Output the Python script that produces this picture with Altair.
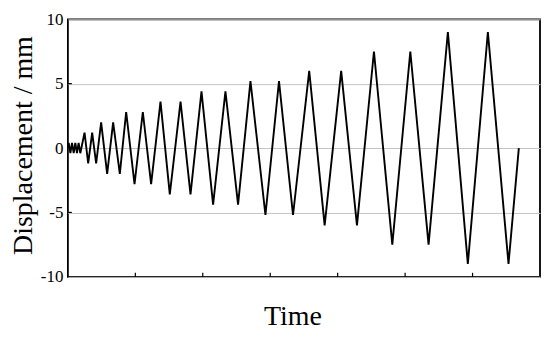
import altair as alt
import pandas as pd

# Loading protocol (time in arbitrary units, displacement in mm)
time = [0.000, 0.012, 0.037, 0.061, 0.086, 0.110, 0.135, 0.159, 0.184,
        0.247, 0.301, 0.360, 0.419,
        0.493, 0.582, 0.671, 0.770,
        0.864, 0.988, 1.111, 1.234,
        1.373, 1.511, 1.670, 1.818,
        1.981, 2.153, 2.336, 2.523,
        2.707, 2.929, 3.130, 3.338,
        3.578, 3.807, 4.052, 4.286,
        4.538, 4.810, 5.077, 5.348,
        5.634, 5.930, 6.227, 6.533,
        6.686]
disp = [0.0, 0.4, -0.4, 0.4, -0.4, 0.4, -0.4, 0.4, -0.4,
        1.2, -1.2, 1.2, -1.2,
        2.0, -2.0, 2.0, -2.0,
        2.8, -2.8, 2.8, -2.8,
        3.6, -3.6, 3.6, -3.6,
        4.4, -4.4, 4.4, -4.4,
        5.2, -5.2, 5.2, -5.2,
        6.0, -6.0, 6.0, -6.0,
        7.5, -7.5, 7.5, -7.5,
        9.0, -9.0, 9.0, -9.0,
        0.0]
y_tick_values = [-10, -5, 0, 5, 10]
y_inner_ticks = [-5, 0, 5]
x_inner_ticks = [1, 2, 3, 4, 5, 6]

FONT = "Liberation Serif"
W, H = 473, 258

df = pd.DataFrame({"time": time, "disp": disp})
xs = alt.Scale(domain=[0, 7], nice=False, zero=False)
ys = alt.Scale(domain=[-10, 10], nice=False)

x_axis = alt.Axis(title="Time", labels=False, ticks=False, grid=False, domain=False,
                  titleFont=FONT, titleFontSize=28, titleFontWeight="normal",
                  titleColor="black", titlePadding=26, titleX=225)
y_axis = alt.Axis(title="Displacement / mm", values=y_tick_values, ticks=False,
                  domain=False, grid=True, gridColor="#c4c4c4", gridWidth=1,
                  labelFont=FONT, labelFontSize=17, labelColor="black",
                  labelExpr="'' + datum.value",
                  labelPadding=5, titleFont=FONT, titleFontSize=28,
                  titleFontWeight="normal", titleColor="black", titlePadding=3,
                  titleY=126)

line = alt.Chart(df).mark_line(color="black", strokeWidth=1.9, strokeJoin="miter").encode(
    x=alt.X("time:Q", scale=xs, axis=x_axis),
    y=alt.Y("disp:Q", scale=ys, axis=y_axis),
)

xt = alt.Chart(pd.DataFrame({"time": x_inner_ticks})).mark_rule(color="black", strokeWidth=1.2).encode(
    x=alt.X("time:Q", scale=xs, axis=x_axis),
    y=alt.value(H), y2=alt.value(H - 4),
)
yt = alt.Chart(pd.DataFrame({"disp": y_inner_ticks})).mark_rule(color="black", strokeWidth=1.2).encode(
    y=alt.Y("disp:Q", scale=ys, axis=y_axis),
    x=alt.value(0), x2=alt.value(4),
)

chart = alt.layer(line, xt, yt).properties(
    width=W, height=H,
    autosize=alt.AutoSizeParams(type="none"),
    padding={"left": 60, "top": 11, "right": 2, "bottom": 60},
).configure_view(stroke="black", strokeWidth=1.8)

chart.save("out.html", embed_options={"renderer": "svg", "actions": False})
